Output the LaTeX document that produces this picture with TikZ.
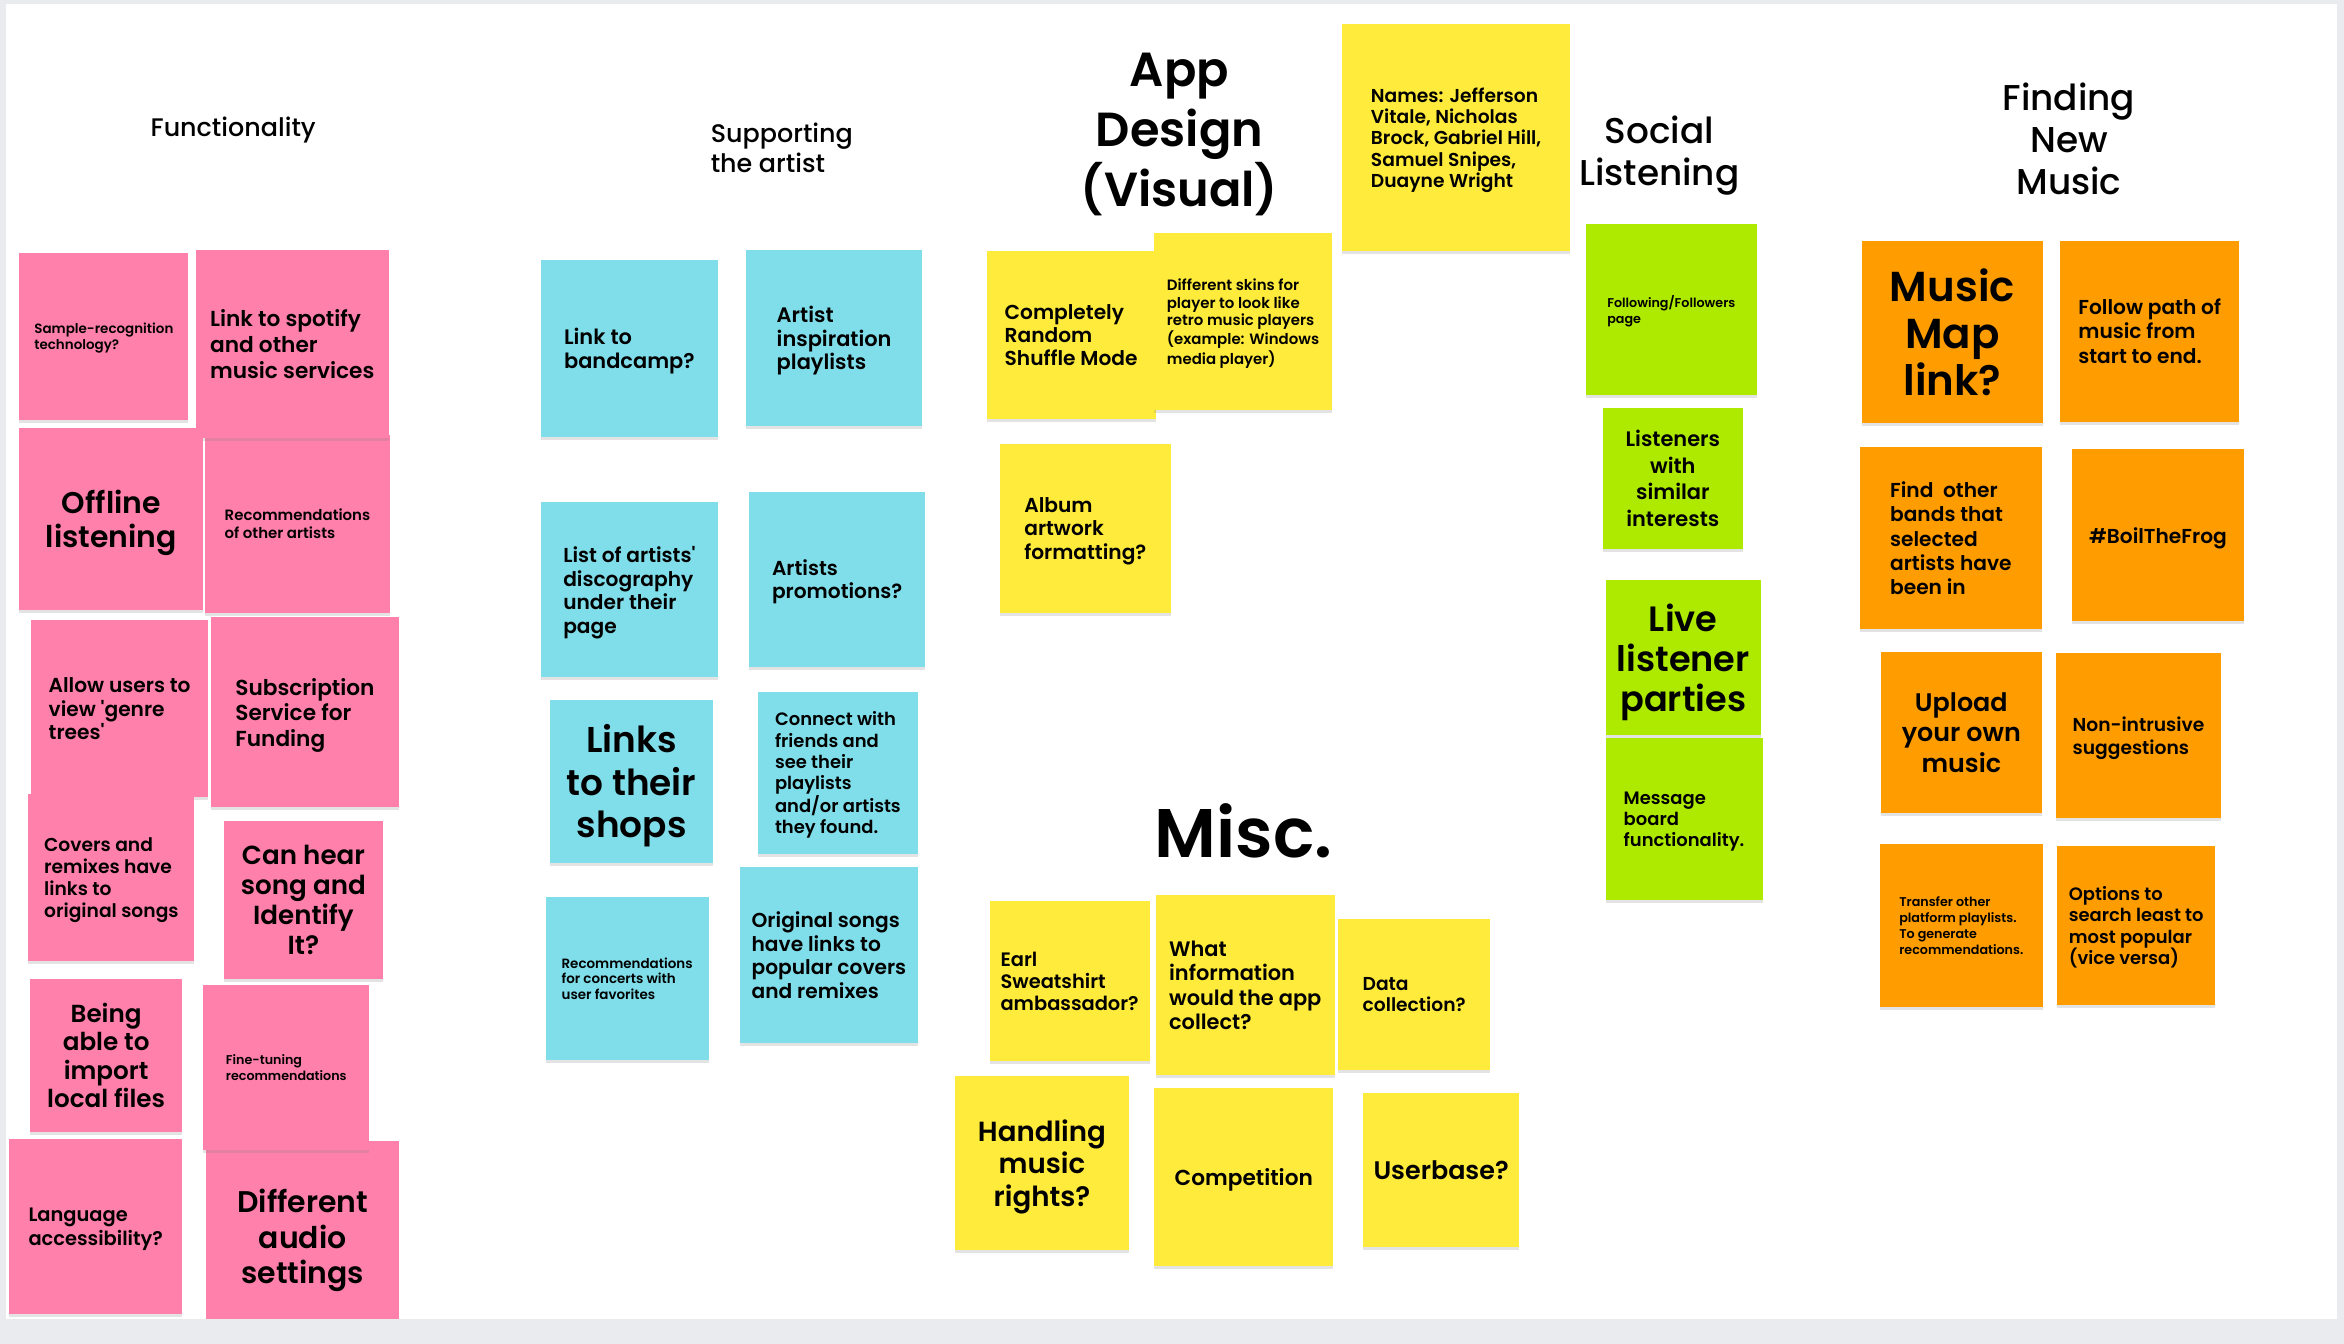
\documentclass[tikz,border=0pt]{standalone}
\usepackage{fontspec}
\setmainfont{Poppins}[UprightFont=* Medium, BoldFont=* SemiBold]
\usetikzlibrary{shadows}
\definecolor{boardgray}{HTML}{E9EBEE}
\definecolor{notepink}{HTML}{FF80AB}
\definecolor{noteblue}{HTML}{80DEEA}
\definecolor{noteyellow}{HTML}{FFEB3B}
\definecolor{notegreen}{HTML}{AEEA00}
\definecolor{noteorange}{HTML}{FF9D00}
\begin{document}
\begin{tikzpicture}[x=1pt,y=-1pt,inner sep=0pt,outer sep=0pt,
note/.style 2 args={rectangle,minimum width=#1pt,minimum height=#2pt,align=left,text depth=0pt,
  drop shadow={shadow xshift=0pt,shadow yshift=-2pt,opacity=0.22}},
pinknote/.style 2 args={note={#1}{#2},fill=notepink},
bluenote/.style 2 args={note={#1}{#2},fill=noteblue},
yellownote/.style 2 args={note={#1}{#2},fill=noteyellow},
greennote/.style 2 args={note={#1}{#2},fill=notegreen},
orangenote/.style 2 args={note={#1}{#2},fill=noteorange},
fs/.style 2 args={font=\fontsize{#1}{#2}\selectfont\bfseries},
header/.style={align=center}]
\useasboundingbox (0,0) rectangle (1568,899);
\fill[boardgray] (0,0) rectangle (1568,899);
\fill[white] (4,3) rectangle (1563,882);
% headings
\draw (156,87) node[header,font=\fontsize{17}{20.5}\selectfont] (hfunc) {Functionality};
\draw (523,99) node[header,align=left,font=\fontsize{17}{20.5}\selectfont] (hsupport) {Supporting\\the artist};
\draw (789,90) node[header,font=\fontsize{32}{40}\selectfont\bfseries] (hdesign) {App\\Design\\(Visual)};
\draw (1110,104) node[header,font=\fontsize{24}{28}\selectfont] (hsocial) {Social\\Listening};
\draw (1384,93) node[header,font=\fontsize{24}{28}\selectfont] (hfinding) {Finding\\New\\Music};
\draw (832,556) node[header,font=\fontsize{46}{50}\selectfont\bfseries] (hmisc) {Misc.};
% functionality
\draw (69.5,225) node[pinknote={113}{112},fs={9}{11}] (samplerec) {Sample-recognition\\technology?};
\draw (199,350.5) node[pinknote={124}{119},fs={10}{12}] (recartists) {Recommendations\\of other artists};
\draw (195.5,230) node[pinknote={129}{126},fs={14.5}{17.5}] (spotify) {Link to spotify\\and other\\music services};
\draw (74.5,347) node[pinknote={123}{122},fs={20}{23},align=center] (offline) {Offline\\listening};
\draw (80,474) node[pinknote={118}{118},fs={13.5}{16}] (genre) {Allow users to\\view \textquotesingle genre\\trees\textquotesingle};
\draw (204,476.5) node[pinknote={126}{127},fs={14.5}{17}] (subscr) {Subscription\\Service for\\Funding};
\draw (74.5,587) node[pinknote={111}{112},fs={12.5}{14.7}] (covers) {Covers and\\remixes have\\links to\\original songs};
\draw (203,602) node[pinknote={106}{106},fs={17.5}{20},align=center] (identify) {Can hear\\song and\\Identify\\It?};
\draw (71,706) node[pinknote={102}{102},fs={16.5}{19},align=center] (import) {Being\\able to\\import\\local files};
\draw (202.5,827) node[pinknote={129}{128},fs={20}{24},align=center] (audio) {Different\\audio\\settings};
\draw (191.5,714) node[pinknote={111}{110},fs={8.5}{11}] (finetune) {Fine-tuning\\recommendations};
\draw (64,820.5) node[pinknote={116}{117},fs={13}{16}] (language) {Language\\accessibility?};
% supporting the artist
\draw (421,233) node[bluenote={118}{118},fs={14}{16}] (bandcamp) {Link to\\bandcamp?};
\draw (558,226) node[bluenote={118}{118},fs={14}{15.5}] (inspire) {Artist\\inspiration\\playlists};
\draw (421,394.5) node[bluenote={118}{117},fs={13.5}{15.7}] (discog) {List of artists\textquotesingle\\discography\\under their\\page};
\draw (560,387.5) node[bluenote={118}{117},fs={13.5}{15}] (promo) {Artists\\promotions?};
\draw (422.5,522.5) node[bluenote={109}{109},fs={24}{28.5},align=center] (shops) {Links\\to their\\shops};
\draw (560.5,517) node[bluenote={107}{108},fs={12}{14.2}] (friends) {Connect with\\friends and\\see their\\playlists\\and/or artists\\they found.};
\draw (419.5,654.5) node[bluenote={109}{109},fs={9}{10.5}] (concerts) {Recommendations\\for concerts with\\user favorites};
\draw (554.5,639) node[bluenote={119}{118},fs={13.5}{15.7}] (originals) {Original songs\\have links to\\popular covers\\and remixes};
% app design
\draw (716.5,224) node[yellownote={113}{112},fs={13.5}{15.5}] (shuffle) {Completely\\Random\\Shuffle Mode};
\draw (831.5,215) node[yellownote={119}{118},fs={10}{11.8}] (skins) {Different skins for\\player to look like\\retro music players\\(example: Windows\\media player)};
\draw (974,92) node[yellownote={152}{152},fs={12.5}{14.3}] (names) {Names: Jefferson\\Vitale, Nicholas\\Brock, Gabriel Hill,\\Samuel Snipes,\\Duayne Wright};
\draw (726,353.5) node[yellownote={114}{113},fs={13.5}{15.5}] (artwork) {Album\\artwork\\formatting?};
% misc
\draw (715.5,656.5) node[yellownote={107}{107},fs={13}{14.5}] (earl) {Earl\\Sweatshirt\\ambassador?};
\draw (833,659) node[yellownote={120}{120},fs={14}{16.3}] (info) {What\\information\\would the app\\collect?};
\draw (946,665.5) node[yellownote={102}{101},fs={12.5}{14}] (data) {Data\\collection?};
\draw (697,778) node[yellownote={116}{116},fs={18.5}{21.5},align=center] (rights) {Handling\\music\\rights?};
\draw (832,787.5) node[yellownote={120}{119},fs={14.5}{17},align=center] (compet) {Competition};
\draw (964,782.5) node[yellownote={104}{103},fs={17}{20},align=center] (userbase) {Userbase?};
% social listening
\draw (1118,207) node[greennote={114}{114},fs={8.5}{11}] (follow) {Following/Followers\\page};
\draw (1119,320) node[greennote={94}{94},fs={14}{17.7},align=center] (similar) {Listeners\\with\\similar\\interests};
\draw (1126,440) node[greennote={104}{104},fs={23.5}{27},align=center] (parties) {Live\\listener\\parties};
\draw (1126.5,548) node[greennote={105}{108},fs={12}{14}] (board) {Message\\board\\functionality.};
% finding new music
\draw (1306,222) node[orangenote={121}{122},fs={28}{31.5},align=center] (musicmap) {Music\\Map\\link?};
\draw (1438,221.5) node[orangenote={120}{121},fs={13.5}{16.5}] (path) {Follow path of\\music from\\start to end.};
\draw (1305,360) node[orangenote={122}{122},fs={13.5}{16.3}] (bands) {Find\ \ other\\bands that\\selected\\artists have\\been in};
\draw (1443.5,358) node[orangenote={115}{115},fs={13.5}{16},align=center] (boil) {\#BoilTheFrog};
\draw (1312,490) node[orangenote={108}{108},fs={17}{20.5},align=center] (upload) {Upload\\your own\\music};
\draw (1430.5,492) node[orangenote={111}{110},fs={12.5}{15}] (nonintr) {Non-intrusive\\suggestions};
\draw (1312,619) node[orangenote={109}{109},fs={8.5}{10.7}] (transfer) {Transfer other\\platform playlists.\\To generate\\recommendations.};
\draw (1429,619) node[orangenote={106}{106},fs={12}{14.3}] (options) {Options to\\search least to\\most popular\\(vice versa)};
\fill[boardgray] (0,882) rectangle (1568,899);
\end{tikzpicture}
\end{document}
